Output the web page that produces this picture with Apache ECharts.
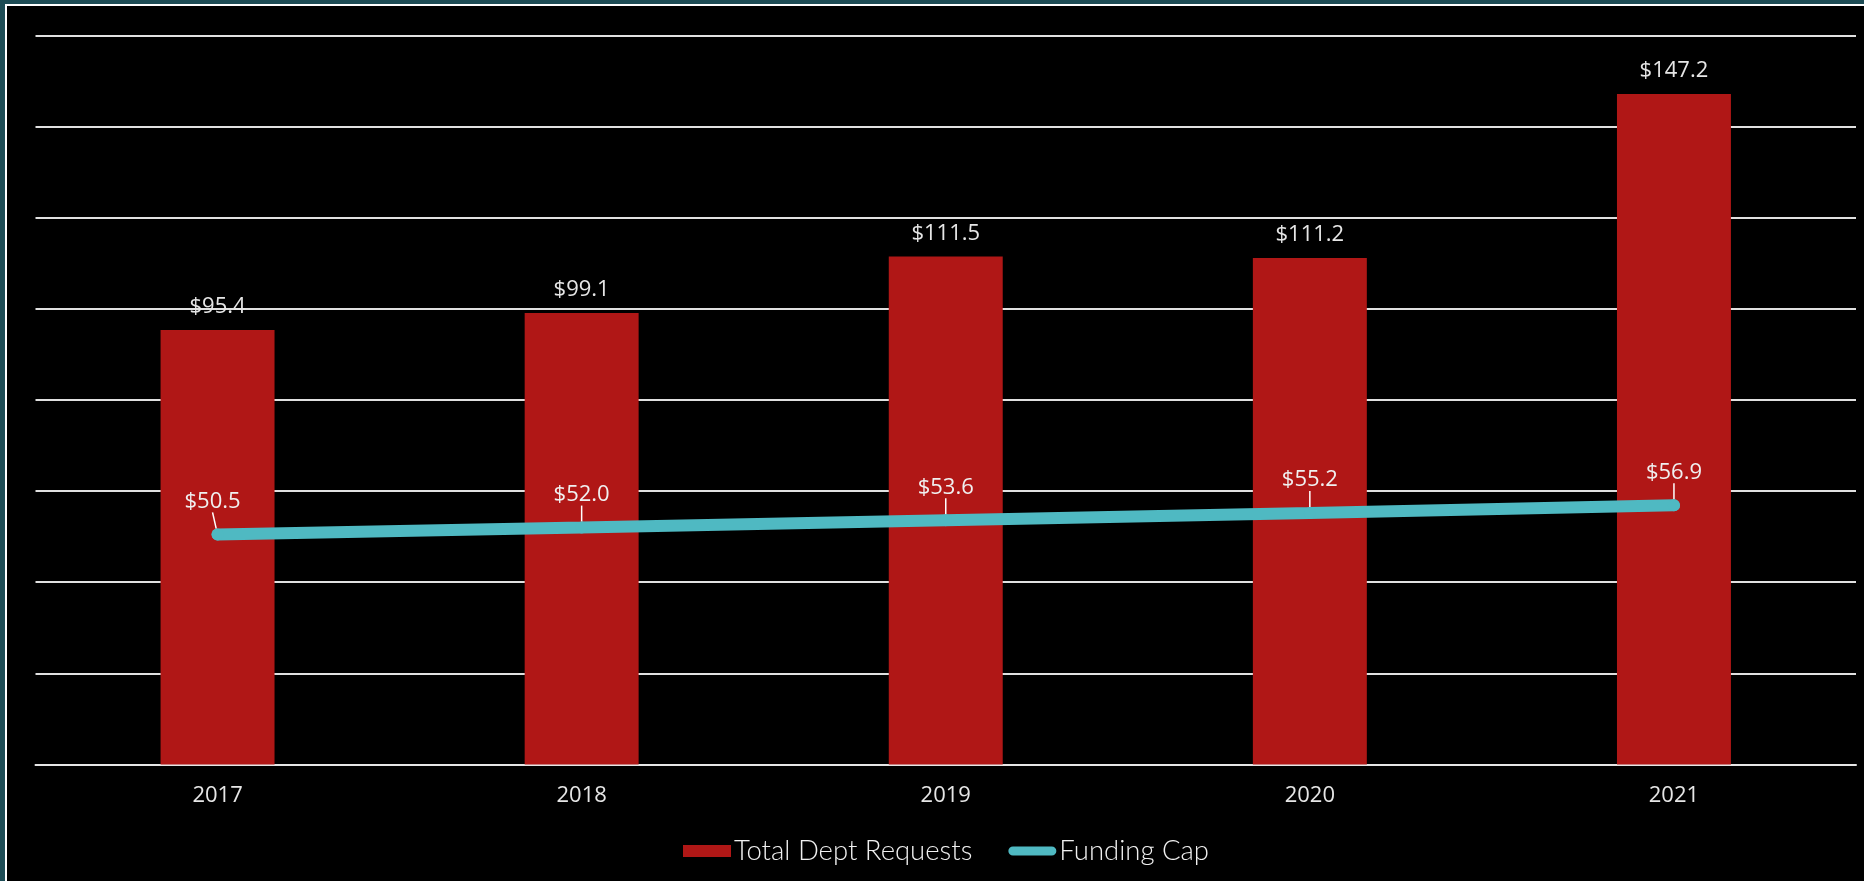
<!DOCTYPE html>
<html>
<head>
<meta charset="utf-8">
<script src="https://cdn.jsdelivr.net/npm/echarts@6/dist/echarts.min.js"></script>
<style>
  html, body { margin: 0; padding: 0; width: 1864px; height: 881px; overflow: hidden; background: #1d4c55; }
  #frame { position: absolute; left: 5px; top: 4px; width: 1880px; height: 900px; background: #000; border: 2px solid #fff; }
  #chart { position: absolute; left: 0; top: 0; width: 1864px; height: 881px; }
</style>
</head>
<body>
<div id="frame"></div>
<div id="chart"></div>
<script>
const categories = ['2017', '2018', '2019', '2020', '2021'];
const deptRequests = [95.4, 99.1, 111.5, 111.2, 147.2];
const fundingCap = [50.5, 52.0, 53.6, 55.2, 56.9];
const seriesNames = ['Total Dept Requests', 'Funding Cap'];

const chart = echarts.init(document.getElementById('chart'), null, { renderer: 'canvas' });
const fmt = p => '$' + Number(p.value).toFixed(1);

chart.setOption({
  backgroundColor: 'transparent',
  animation: false,
  grid: { left: 35.5, right: 8, top: 35.7, bottom: 116.6, containLabel: false },
  legend: {
    left: 678, top: 832,
    itemWidth: 48, itemHeight: 12, itemGap: 36,
    textStyle: { color: '#f0f0f0', fontSize: 27.5, fontFamily: 'Lato', fontWeight: 300, padding: [0, 0, 0, -2] },
    data: [
      { name: seriesNames[0], icon: 'rect' },
      { name: seriesNames[1], icon: 'path://M5,0 L47,0 A5,5 0 0 1 47,10 L5,10 A5,5 0 0 1 5,0 Z' }
    ]
  },
  xAxis: {
    type: 'category', data: categories,
    axisLine: { lineStyle: { color: '#e6e6e6', width: 2 } },
    axisTick: { show: false },
    axisLabel: { color: '#e6e6e6', fontSize: 22, fontFamily: 'Open Sans', margin: 20 }
  },
  yAxis: {
    type: 'value', min: 0, max: 160, interval: 20,
    axisLabel: { show: false },
    axisLine: { show: false }, axisTick: { show: false },
    splitLine: { lineStyle: { color: '#e0e0e0', width: 2 } }
  },
  series: [
    {
      name: seriesNames[0], type: 'bar', data: deptRequests,
      barWidth: '31.3%',
      itemStyle: { color: '#b01716' },
      label: { show: true, position: 'top', distance: 12, color: '#e6e6e6', fontSize: 22, fontFamily: 'Open Sans', formatter: fmt }
    },
    {
      name: seriesNames[1], type: 'line', data: fundingCap,
      symbol: 'circle', symbolSize: 12,
      lineStyle: { color: '#4fb9c2', width: 12, cap: 'round' },
      itemStyle: { color: '#4fb9c2' },
      label: { show: true, position: 'top', distance: 2, color: '#f0f0f0', fontSize: 22, fontFamily: 'Open Sans', formatter: fmt },
      labelLayout: function (p) { return { dx: p.dataIndex === 0 ? -5 : 0, dy: -14 }; },
      labelLine: { show: true, lineStyle: { color: '#ffffff', width: 1.5 } }
    }
  ]
});
</script>
</body>
</html>
